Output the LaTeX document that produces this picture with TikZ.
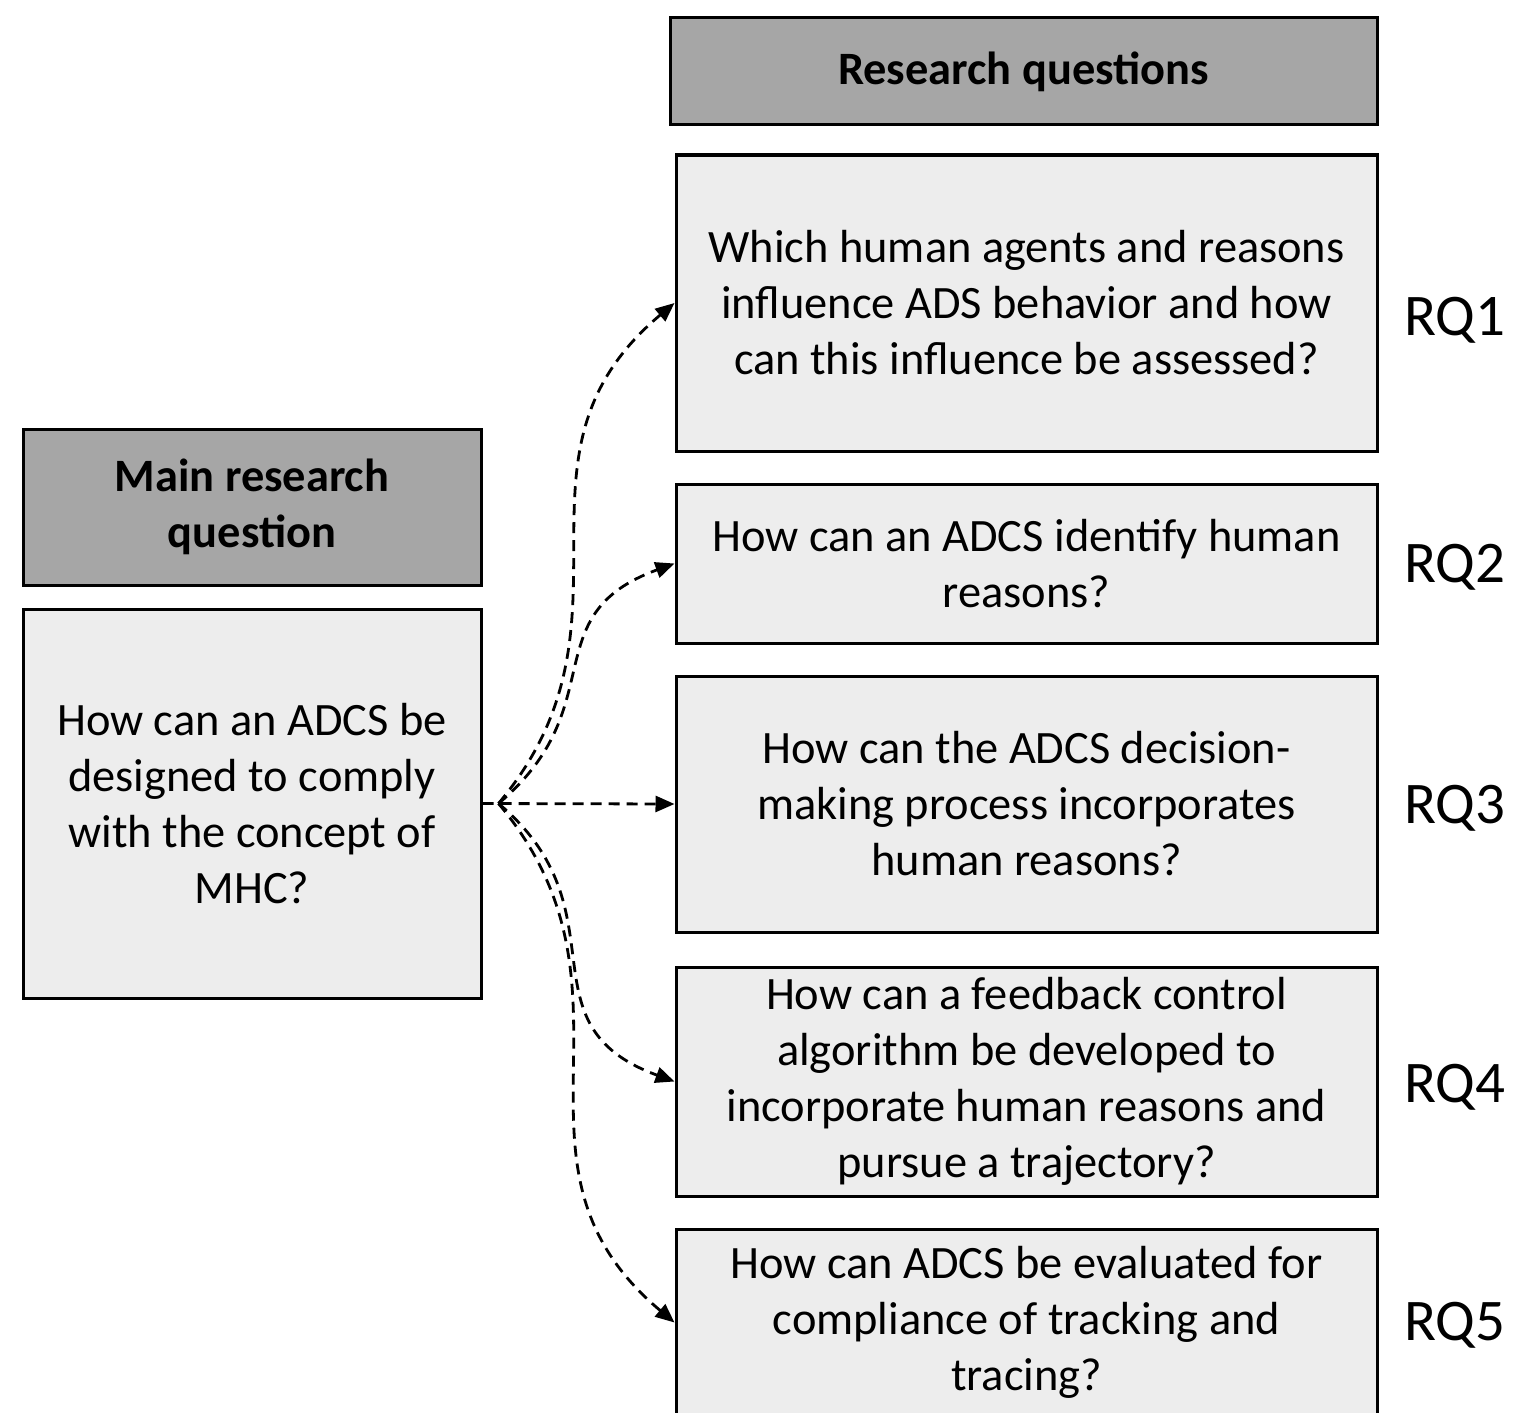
\documentclass[tikz,border=0pt]{standalone}
\usepackage{fontspec}
\setmainfont{Carlito}
\usetikzlibrary{arrows.meta}
\definecolor{hdrgray}{HTML}{A6A6A6}
\definecolor{boxgray}{HTML}{EDEDED}
\tikzset{
  basebox/.style={draw, line width=1.5pt, inner sep=0pt, align=center,
    font=\fontsize{23.2}{28}\selectfont},
  hdrbox/.style={basebox, fill=hdrgray, font=\fontsize{23.2}{28}\selectfont\bfseries},
  qbox/.style={basebox, fill=boxgray},
  rqlabel/.style={font=\fontsize{29.5}{34}\selectfont, inner sep=0pt},
  link/.style={draw, dashed, dash pattern=on 5.5pt off 3.5pt, line width=1.4pt,
    -{Triangle[length=9.5pt,width=8pt]}}
}
\begin{document}
\begin{tikzpicture}[x=0.5pt,y=-0.5pt]
\clip (0,0) rectangle (1515,1413);
\fill[white] (0,0) rectangle (1515,1413);
% headers
\node[hdrbox, minimum width=353.5pt, minimum height=53.5pt] (rqhdr) at (1023.5,71.5) {Research questions};
\node[hdrbox, minimum width=229pt, minimum height=78pt] (mainhdr) at (252,507) {Main research\\question};
% main question
\node[qbox, minimum width=229pt, minimum height=194.5pt] (main) at (252,803.5) {How can an ADCS be\\designed to comply\\with the concept of\\MHC?};
% research questions
\node[qbox, minimum width=350.5pt, minimum height=148pt] (rq1) at (1026.5,303) {Which human agents and reasons\\influence ADS behavior and how\\can this influence be assessed?};
\node[qbox, minimum width=350.5pt, minimum height=79.5pt] (rq2) at (1026.5,563.5) {How can an ADCS identify human\\reasons?};
\node[qbox, minimum width=350.5pt, minimum height=128pt] (rq3) at (1026.5,804) {How can the ADCS decision-\\making process incorporates\\human reasons?};
\node[qbox, minimum width=350.5pt, minimum height=114.5pt] (rq4) at (1026.5,1081.5) {How can a feedback control\\algorithm be developed to\\incorporate human reasons and\\pursue a trajectory?};
\node[qbox, minimum width=350.5pt, minimum height=93pt] (rq5) at (1026.5,1322.5) {How can ADCS be evaluated for\\compliance of tracking and\\tracing?};
% labels
\node[rqlabel] (l1) at (1455,320) {RQ1};
\node[rqlabel] (l2) at (1455,567) {RQ2};
\node[rqlabel] (l3) at (1455,808) {RQ3};
\node[rqlabel] (l4) at (1455,1087) {RQ4};
\node[rqlabel] (l5) at (1455,1325) {RQ5};
% connectors
\coordinate (src) at ([xshift=8pt]main.east);
\draw[link] (main.east) -- (rq3.west);
\draw[link] (src) to[out=50,in=220,looseness=1.15] (rq1.west);
\draw[link] (src) to[out=40,in=200,looseness=1.3] (rq2.west);
\draw[link] (src) to[out=-40,in=160,looseness=1.3] (rq4.west);
\draw[link] (src) to[out=-50,in=140,looseness=1.15] (rq5.west);
\end{tikzpicture}
\end{document}
